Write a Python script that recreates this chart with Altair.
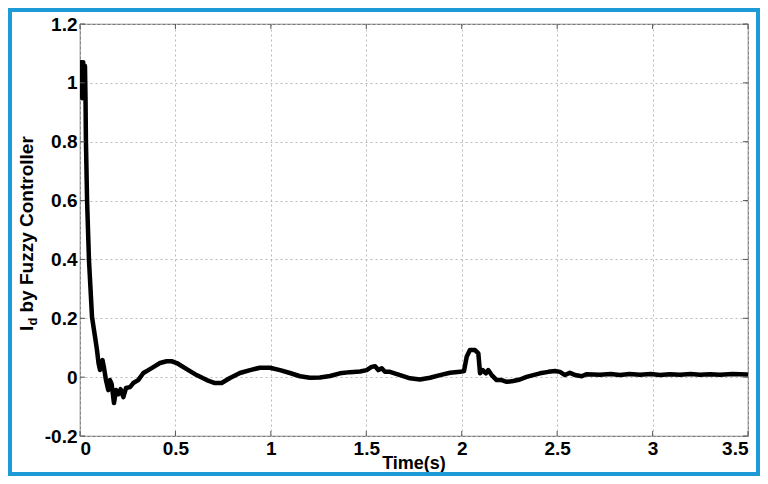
import altair as alt
import pandas as pd

# Time (s) and I_d values
t = [0.003, 0.007, 0.012, 0.017, 0.023, 0.026, 0.029, 0.031, 0.037, 0.047,
     0.063, 0.079, 0.089, 0.097, 0.105, 0.118, 0.126, 0.136, 0.148, 0.157,
     0.166, 0.178, 0.189, 0.201, 0.213, 0.227, 0.241, 0.262, 0.279, 0.305,
     0.332, 0.358, 0.384, 0.419, 0.454, 0.480, 0.507, 0.559, 0.611, 0.664,
     0.707, 0.742, 0.786, 0.838, 0.891, 0.943, 0.995, 1.048, 1.100, 1.153,
     1.205, 1.257, 1.310, 1.362, 1.415, 1.467, 1.502, 1.528, 1.546, 1.563,
     1.581, 1.598, 1.624, 1.677, 1.729, 1.781, 1.834, 1.886, 1.939, 1.991,
     2.012, 2.026, 2.043, 2.070, 2.087, 2.096, 2.110, 2.127, 2.139, 2.157,
     2.183, 2.209, 2.236, 2.270, 2.305, 2.340, 2.375, 2.410, 2.454, 2.489,
     2.515, 2.541, 2.567, 2.594, 2.629, 2.655, 2.724, 2.780, 2.829, 2.880,
     2.934, 2.990, 3.039, 3.090, 3.144, 3.200, 3.248, 3.300, 3.353, 3.420,
     3.495]
v = [0.958, 1.070, 0.948, 1.070, 0.948, 1.057, 0.941, 0.805, 0.601, 0.398,
     0.204, 0.136, 0.092, 0.048, 0.024, 0.058, 0.031, -0.010, -0.044, -0.010,
     -0.024, -0.088, -0.044, -0.058, -0.041, -0.068, -0.037, -0.034, -0.020, -0.010,
     0.014, 0.024, 0.034, 0.048, 0.054, 0.054, 0.048, 0.027, 0.007, -0.010,
     -0.020, -0.020, -0.003, 0.014, 0.024, 0.032, 0.032, 0.024, 0.014, 0.003,
     -0.002, -0.001, 0.004, 0.013, 0.017, 0.019, 0.024, 0.035, 0.037, 0.024,
     0.030, 0.018, 0.018, 0.007, -0.004, -0.008, -0.002, 0.007, 0.015, 0.018,
     0.021, 0.069, 0.092, 0.092, 0.081, 0.013, 0.024, 0.013, 0.024, 0.007,
     -0.010, -0.010, -0.016, -0.013, -0.008, 0.001, 0.007, 0.013, 0.018, 0.021,
     0.018, 0.007, 0.015, 0.007, 0.003, 0.010, 0.008, 0.011, 0.007, 0.011,
     0.008, 0.011, 0.007, 0.010, 0.008, 0.011, 0.008, 0.010, 0.008, 0.011,
     0.009]

x_ticks = [0, 0.5, 1, 1.5, 2, 2.5, 3, 3.5]
y_ticks = [-0.2, 0, 0.2, 0.4, 0.6, 0.8, 1, 1.2]
x_title = "Time(s)"
y_title_parts = ["I", "d", "by Fuzzy Controller"]

W, H = 668, 412
FONT = "Liberation Sans"
AXIS_GRAY = "#7a7a7a"

df = pd.DataFrame({"t": t, "v": v})
xs = alt.Scale(domain=[0, 3.5], nice=False, zero=False)
ys = alt.Scale(domain=[-0.2, 1.2], nice=False, zero=False)

x_axis = alt.Axis(values=x_ticks, labelExpr="'' + datum.value", title="",
                  labelPadding=3)
y_axis = alt.Axis(values=y_ticks, labelExpr="'' + datum.value", title="",
                  labelPadding=3)

line = alt.Chart(df).mark_line(
    color="black", strokeWidth=4.5, strokeJoin="round", strokeCap="round", clip=True
).encode(
    x=alt.X("t:Q", scale=xs, axis=x_axis),
    y=alt.Y("v:Q", scale=ys, axis=y_axis),
)

xt = pd.DataFrame({"t": x_ticks})
yt = pd.DataFrame({"v": y_ticks})
tick_color = "#555555"
ticks_bottom = alt.Chart(xt).mark_rule(color=tick_color, strokeWidth=1).encode(
    x=alt.X("t:Q", scale=xs, axis=x_axis), y=alt.value(H - 5), y2=alt.value(H))
ticks_top = alt.Chart(xt).mark_rule(color=tick_color, strokeWidth=1).encode(
    x=alt.X("t:Q", scale=xs, axis=x_axis), y=alt.value(0), y2=alt.value(5))
ticks_left = alt.Chart(yt).mark_rule(color=tick_color, strokeWidth=1).encode(
    y=alt.Y("v:Q", scale=ys, axis=y_axis), x=alt.value(0), x2=alt.value(5))
ticks_right = alt.Chart(yt).mark_rule(color=tick_color, strokeWidth=1).encode(
    y=alt.Y("v:Q", scale=ys, axis=y_axis), x=alt.value(W - 5), x2=alt.value(W))

one = pd.DataFrame({"k": [0]})
text_style = dict(font=FONT, fontWeight="bold", color="black", baseline="alphabetic")
ytitle_main = alt.Chart(one).mark_text(
    angle=270, align="left", fontSize=19, **text_style
).encode(x=alt.value(-47), y=alt.value(307), text=alt.value(y_title_parts[0]))
ytitle_sub = alt.Chart(one).mark_text(
    angle=270, align="left", fontSize=13, **text_style
).encode(x=alt.value(-43), y=alt.value(301.5), text=alt.value(y_title_parts[1]))
ytitle_rest = alt.Chart(one).mark_text(
    angle=270, align="left", fontSize=19, **text_style
).encode(x=alt.value(-47), y=alt.value(288.5), text=alt.value(y_title_parts[2]))
xtitle = alt.Chart(one).mark_text(
    align="center", fontSize=18, **text_style
).encode(x=alt.value(W / 2), y=alt.value(H + 33), text=alt.value(x_title))

border = alt.Chart(one).mark_rect(
    fillOpacity=0, stroke="#1E9BD7", strokeWidth=4
).encode(x=alt.value(-70), x2=alt.value(678), y=alt.value(-14), y2=alt.value(450))

chart = alt.layer(
    line, ticks_bottom, ticks_top, ticks_left, ticks_right,
    ytitle_main, ytitle_sub, ytitle_rest, xtitle, border
).properties(
    width=W, height=H,
    autosize=alt.AutoSizeParams(type="none"),
    padding={"left": 72, "top": 16, "right": 12, "bottom": 40},
    background="white",
).configure_view(
    stroke=AXIS_GRAY, strokeWidth=1.2
).configure_axis(
    domain=False, ticks=False, grid=True,
    gridColor="#b8b8b8", gridDash=[2, 3], gridWidth=1,
    labelFont=FONT, labelFontSize=19, labelFontWeight="bold", labelColor="black",
)

chart.save("out.html", embed_options={"renderer": "svg", "actions": False})
